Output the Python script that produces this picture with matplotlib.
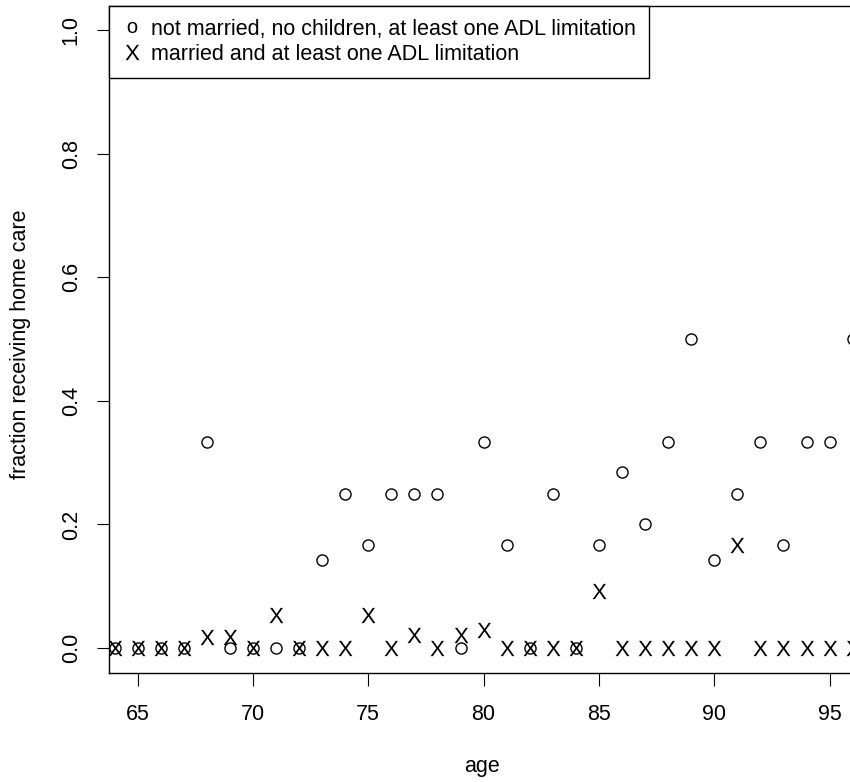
import matplotlib
matplotlib.use("Agg")
import matplotlib.pyplot as plt
from matplotlib.lines import Line2D

plt.rcParams["font.family"] = ["Liberation Sans", "DejaVu Sans"]
plt.rcParams["mathtext.fontset"] = "custom"
plt.rcParams["mathtext.sf"] = "Liberation Sans"

# data
ages = list(range(64, 97))
single_no_kids = [0, 0, 0, 0, 1/3, 0, 0, 0, 0, 1/7, 0.25, 1/6, 0.25, 0.25, 0.25, 0,
                  1/3, 1/6, 0, 0.25, 0, 1/6, 2/7, 0.2, 1/3, 0.5, 1/7, 0.25, 1/3,
                  1/6, 1/3, 1/3, 0.5]
married = [0, 0, 0, 0, 0.017, 0.017, 0, 0.054, 0, 0, 0, 0.054, 0, 0.021, 0, 0.021,
           0.029, 0, 0, 0, 0, 0.092, 0, 0, 0, 0, 0, 1/6, 0, 0, 0, 0, 0]
yticks = [0.0, 0.2, 0.4, 0.6, 0.8, 1.0]
xticks = [65, 70, 75, 80, 85, 90, 95]

fs = 15.5

fig = plt.figure(figsize=(8.5, 7.82), dpi=100)
# right edge runs past the figure, the original plot is cut off there
ax = fig.add_axes([0.1288, 0.1398, 0.915, 0.853])

ax.plot(ages, single_no_kids, linestyle="none", marker="o", markersize=8,
        markerfacecolor="none", markeredgecolor="black", markeredgewidth=1.0)
ax.plot(ages, married, linestyle="none", marker=r"$\mathsf{X}$", markersize=11,
        color="black", markeredgewidth=0)

ax.set_xlim(63.78, 97.5)
ax.set_ylim(-0.04, 1.04)
ax.set_xticks(xticks)
ax.set_yticks(yticks)
ax.set_yticklabels([f"{v:.1f}" for v in yticks], rotation=90, va="center")
ax.tick_params(direction="out", length=9, width=0.8, labelsize=fs)
ax.tick_params(axis="x", pad=13.5)
ax.tick_params(axis="y", pad=11)
for s in ax.spines.values():
    s.set_linewidth(1.0)

ax.set_xlabel("age", fontsize=fs, va="center")
ax.xaxis.set_label_coords(0.479, -0.14)
ax.set_ylabel("fraction receiving home care", fontsize=fs, va="center")
ax.yaxis.set_label_coords(-0.1138, 0.492)

handles = [
    Line2D([], [], linestyle="none", marker=r"$\mathsf{o}$", markersize=8,
           color="black", markeredgewidth=0),
    Line2D([], [], linestyle="none", marker=r"$\mathsf{X}$", markersize=11,
           color="black", markeredgewidth=0),
]
labels = ["not married, no children, at least one ADL limitation",
          "married and at least one ADL limitation"]
leg = ax.legend(handles, labels, loc="upper left", bbox_to_anchor=(0, 1.0),
                bbox_transform=ax.transAxes, borderaxespad=0, fancybox=False,
                edgecolor="black", fontsize=fs, framealpha=1, handlelength=0.9,
                handletextpad=0.45, labelspacing=0.2, borderpad=0.6)
leg.get_frame().set_linewidth(1.0)

fig.savefig("out.png", dpi=100)
